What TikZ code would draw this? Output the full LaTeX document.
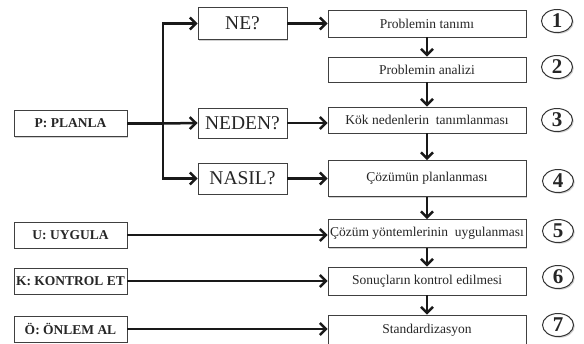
\documentclass[tikz,border=0pt]{standalone}
\usepackage{fontspec}
\setmainfont{Liberation Serif}
\usetikzlibrary{arrows.meta,shadows,shapes.geometric}
\begin{document}
\begin{tikzpicture}[x=1pt,y=-1pt,
  shad/.style={drop shadow={shadow xshift=1.3pt,shadow yshift=-1.3pt,opacity=0.3,fill=black!60}},
  boxbase/.style={draw=black!75,line width=0.9pt,fill=white,inner sep=0pt,text=black!85,shad},
  lbox/.style={boxbase,minimum width=113pt,minimum height=26pt,font=\fontsize{13.5}{15}\selectfont\bfseries},
  qbox/.style={boxbase,minimum width=89pt,font=\fontsize{19.5}{22}\selectfont},
  rbox/.style={boxbase,minimum width=198pt,font=\fontsize{13.5}{15}\selectfont},
  numc/.style={ellipse,draw=black!80,line width=1pt,fill=white,inner sep=0pt,minimum width=31pt,minimum height=23pt,font=\fontsize{21}{22}\selectfont\bfseries,text=black!85,shad},
  conn/.style={line width=2.5pt,black!90,-{Straight Barb[length=6pt,width=12pt]}}
]
\useasboundingbox (0,0) rectangle (584,343);
\fill[white] (0,0) rectangle (584,343);

% left boxes
\node[lbox] (P) at (70.5,123.5) {P: PLANLA};
\node[lbox] (U) at (70.5,235) {U: UYGULA};
\node[lbox] (K) at (70.5,281) {K: KONTROL ET};
\node[lbox] (O) at (70.5,329) {Ö: ÖNLEM AL};

% question boxes
\node[qbox,minimum height=32pt] (ne) at (242.5,23.5) {NE?};
\node[qbox,minimum height=30pt] (neden) at (242.5,123) {NEDEN?};
\node[qbox,minimum height=31pt] (nasil) at (242.5,178.5) {NASIL?};

% right boxes
\node[rbox,minimum height=27pt] (r1) at (427,23.5) {Problemin tanımı};
\node[rbox,minimum height=25pt] (r2) at (427,69.5) {Problemin analizi};
\node[rbox,minimum height=26pt] (r3) at (427,120) {Kök nedenlerin\ \ tanımlanması};
\node[rbox,minimum height=36pt] (r4) at (427,178.5) {Çözümün planlanması};
\node[rbox,minimum height=28pt] (r5) at (427,233.5) {Çözüm yöntemlerinin\ \ uygulanması};
\node[rbox,minimum height=28pt] (r6) at (427,281) {Sonuçların kontrol edilmesi};
\node[rbox,minimum height=30pt] (r7) at (427,330) {Standardizasyon};

% numbers
\node[numc] (n1) at (557,21) {1};
\node[numc] (n2) at (557,67) {2};
\node[numc] (n3) at (557,120) {3};
\node[numc] (n4) at (558,181) {4};
\node[numc] (n5) at (558,231) {5};
\node[numc] (n6) at (558,277) {6};
\node[numc] (n7) at (558,325) {7};

% connectors
\coordinate (tr) at (163,123.5);
\draw[line width=2.5pt,black!90] (P.east) -- (tr);
\draw[conn] (tr) |- (ne.west);
\draw[conn] (tr) -- (neden.west);
\draw[conn] (tr) |- (nasil.west);

\draw[conn] (ne.east) -- (r1.west);
\draw[conn] (neden.east) -- (neden.east -| r3.west);
\draw[conn] (nasil.east) -- (r4.west);

\draw[conn] (U.east) -- (U.east -| r5.west);
\draw[conn] (K.east) -- (r6.west);
\draw[conn] (O.east) -- (O.east -| r7.west);

\draw[conn] (r1.south) -- (r2.north);
\draw[conn] (r2.south) -- (r3.north);
\draw[conn] (r3.south) -- (r4.north);
\draw[conn] (r4.south) -- (r5.north);
\draw[conn] (r5.south) -- (r6.north);
\draw[conn] (r6.south) -- (r7.north);
\end{tikzpicture}
\end{document}
